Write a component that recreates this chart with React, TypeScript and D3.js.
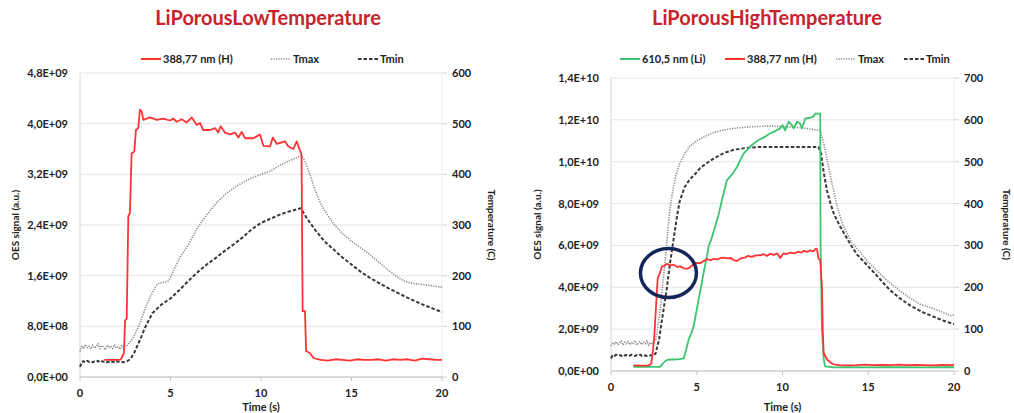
import React from 'react';
import * as d3 from 'd3';

type Pt = [number, number];

// signal values are in units of 1e9 a.u., temperatures in C, time in s
const timeTicks = [0, 5, 10, 15, 20];
const lowSignalTicks = [0, 0.8, 1.6, 2.4, 3.2, 4.0, 4.8];
const lowTempTicks = [0, 100, 200, 300, 400, 500, 600];
const highSignalTicks = [0, 2, 4, 6, 8, 10, 12, 14];
const highTempTicks = [0, 100, 200, 300, 400, 500, 600, 700];

const lowH: Pt[] = [
  [1.34, 0.27], [1.8, 0.27], [2.2, 0.27], [2.3, 0.3], [2.43, 0.38], [2.49, 0.89], [2.58, 0.92],
  [2.67, 2.54], [2.76, 2.59], [2.85, 3.53], [3.0, 3.56], [3.09, 3.9], [3.22, 3.93], [3.31, 4.22],
  [3.41, 4.19], [3.5, 4.06], [3.87, 4.1], [4.24, 4.06], [4.6, 4.08], [4.97, 4.05], [5.16, 4.08],
  [5.34, 4.03], [5.62, 4.07], [5.89, 4.02], [6.17, 4.1], [6.45, 3.98], [6.63, 4.01], [6.81, 3.9],
  [7.18, 3.9], [7.46, 3.93], [7.64, 3.86], [7.77, 3.96], [8.01, 3.86], [8.29, 3.83], [8.56, 3.86],
  [8.75, 3.78], [8.93, 3.87], [9.12, 3.77], [9.58, 3.77], [9.94, 3.83], [10.13, 3.65], [10.5, 3.64],
  [10.65, 3.78], [10.87, 3.68], [11.33, 3.72], [11.51, 3.64], [11.79, 3.6], [11.97, 3.72],
  [12.15, 3.58], [12.24, 3.51], [12.3, 1.04], [12.43, 1.04], [12.49, 0.41], [12.7, 0.38],
  [12.9, 0.3], [13.3, 0.27], [13.7, 0.26], [14.1, 0.28], [14.5, 0.27], [14.9, 0.26], [15.3, 0.28],
  [15.7, 0.27], [16.1, 0.27], [16.5, 0.28], [16.9, 0.26], [17.3, 0.28], [17.7, 0.27], [18.1, 0.28],
  [18.5, 0.26], [18.9, 0.29], [19.3, 0.28], [19.7, 0.27], [20.0, 0.27],
];

const lowTmax: Pt[] = [
  [0, 50], [0.1, 62], [0.2, 56], [0.3, 64], [0.4, 58], [0.5, 61], [0.6, 55], [0.7, 63], [0.8, 57],
  [0.9, 60], [1.0, 66], [1.1, 56], [1.2, 62], [1.3, 59], [1.4, 54], [1.5, 63], [1.6, 58], [1.7, 61],
  [1.8, 56], [1.9, 64], [2.0, 57], [2.1, 60], [2.2, 55], [2.3, 62], [2.4, 58], [2.5, 61], [2.6, 62],
  [2.8, 70], [3.0, 82], [3.3, 105], [3.6, 135], [3.9, 160], [4.2, 180], [4.4, 186], [4.7, 187],
  [4.9, 190], [5.1, 205], [5.5, 235], [6.0, 262], [6.5, 295], [7.0, 320], [7.5, 342], [8.0, 360],
  [8.5, 373], [9.0, 384], [9.5, 393], [10.0, 400], [10.5, 406], [11.0, 417], [11.5, 426],
  [12.0, 433], [12.2, 437], [12.4, 428], [12.7, 400], [13.0, 368], [13.3, 342], [13.7, 318],
  [14.0, 303], [14.5, 283], [15.0, 268], [15.5, 255], [16.0, 242], [16.5, 227], [17.0, 212],
  [17.5, 198], [18.0, 188], [18.5, 184], [19.0, 182], [19.5, 180], [20.0, 177],
];

const lowTmin: Pt[] = [
  [0, 20], [0.1, 30], [0.2, 31], [0.3, 29], [0.4, 32], [0.5, 30], [0.6, 31], [0.7, 29], [0.8, 31],
  [0.9, 30], [1.0, 32], [1.1, 29], [1.2, 31], [1.3, 30], [1.4, 31], [1.5, 29], [1.6, 30], [1.7, 32],
  [1.8, 30], [1.9, 29], [2.0, 31], [2.1, 30], [2.2, 31], [2.3, 30], [2.4, 29], [2.6, 31],
  [2.8, 36], [3.0, 48], [3.3, 72], [3.6, 98], [4.0, 126], [4.5, 143], [5.0, 155], [5.5, 172],
  [6.0, 190], [6.5, 207], [7.0, 222], [7.5, 235], [8.0, 249], [8.5, 262], [9.0, 276], [9.5, 292],
  [10.0, 304], [10.5, 312], [11.0, 320], [11.5, 326], [12.0, 331], [12.2, 333], [12.5, 315],
  [13.0, 290], [13.5, 268], [14.0, 252], [14.5, 236], [15.0, 222], [15.5, 208], [16.0, 196],
  [16.5, 186], [17.0, 176], [17.5, 167], [18.0, 158], [18.5, 150], [19.0, 142], [19.5, 135],
  [20.0, 128],
];

const highLi: Pt[] = [
  [1.3, 0.2], [2.0, 0.2], [2.88, 0.2], [3.0, 0.35], [3.27, 0.53], [3.6, 0.55], [3.9, 0.56],
  [4.24, 0.6], [4.38, 1.0], [4.53, 1.51], [4.68, 1.8], [4.82, 2.15], [4.97, 2.8], [5.11, 3.42],
  [5.25, 4.0], [5.4, 4.7], [5.55, 5.3], [5.7, 5.97], [5.85, 6.3], [5.99, 6.69], [6.14, 7.1],
  [6.28, 7.49], [6.47, 8.17], [6.6, 8.6], [6.76, 9.12], [6.96, 9.3], [7.15, 9.5], [7.35, 9.76],
  [7.55, 10.1], [7.74, 10.4], [7.98, 10.6], [8.22, 10.8], [8.45, 10.95], [8.7, 11.07], [9.0, 11.2],
  [9.29, 11.36], [9.55, 11.45], [9.87, 11.6], [10.0, 11.75], [10.15, 11.5], [10.36, 11.91],
  [10.5, 11.8], [10.65, 11.6], [10.85, 11.91], [11.0, 11.85], [11.14, 11.6], [11.33, 12.07],
  [11.62, 12.1], [11.8, 12.15], [11.91, 12.3], [12.2, 12.3], [12.22, 6.0], [12.3, 2.0],
  [12.4, 0.6], [12.48, 0.22], [13.0, 0.17], [14.0, 0.18], [15.0, 0.17], [16.0, 0.18],
  [17.0, 0.18], [18.0, 0.17], [19.0, 0.18], [20.0, 0.18],
];

const highH: Pt[] = [
  [1.3, 0.27], [1.8, 0.26], [2.2, 0.27], [2.35, 0.35], [2.45, 1.0], [2.52, 1.6], [2.62, 3.0],
  [2.72, 4.4], [2.82, 4.63], [2.9, 4.8], [2.97, 5.0], [3.1, 5.02], [3.27, 5.12], [3.45, 5.05],
  [3.65, 5.08], [3.85, 4.98], [4.05, 5.0], [4.25, 4.9], [4.43, 4.89], [4.6, 4.94], [4.8, 5.1],
  [5.01, 5.17], [5.2, 5.15], [5.4, 5.25], [5.6, 5.34], [5.8, 5.3], [6.0, 5.36], [6.2, 5.33],
  [6.4, 5.4], [6.57, 5.42], [6.8, 5.38], [7.0, 5.4], [7.15, 5.3], [7.35, 5.26], [7.55, 5.38],
  [7.8, 5.42], [8.0, 5.5], [8.2, 5.45], [8.45, 5.52], [8.7, 5.53], [8.9, 5.58], [9.1, 5.5],
  [9.3, 5.6], [9.5, 5.55], [9.7, 5.62], [9.87, 5.4], [10.05, 5.62], [10.25, 5.6], [10.46, 5.66],
  [10.7, 5.62], [10.9, 5.7], [11.1, 5.66], [11.25, 5.74], [11.43, 5.69], [11.6, 5.76],
  [11.8, 5.72], [11.95, 5.85], [12.01, 5.82], [12.1, 5.37], [12.2, 5.3], [12.3, 4.0],
  [12.35, 1.9], [12.4, 0.87], [12.6, 0.55], [12.8, 0.4], [12.98, 0.32], [13.3, 0.28],
  [13.8, 0.27], [14.3, 0.28], [14.8, 0.3], [15.3, 0.28], [15.8, 0.29], [16.3, 0.28],
  [16.8, 0.3], [17.3, 0.28], [17.8, 0.29], [18.3, 0.28], [18.8, 0.27], [19.3, 0.29],
  [19.7, 0.28], [20.0, 0.29],
];

const highTmax: Pt[] = [
  [0, 60], [0.1, 68], [0.2, 64], [0.3, 70], [0.4, 63], [0.5, 67], [0.6, 72], [0.7, 62], [0.8, 69],
  [0.9, 65], [1.0, 71], [1.1, 63], [1.2, 68], [1.3, 64], [1.4, 73], [1.5, 62], [1.6, 67], [1.7, 70],
  [1.8, 63], [1.9, 69], [2.0, 65], [2.1, 72], [2.2, 61], [2.3, 68], [2.4, 64], [2.5, 70],
  [2.6, 72], [2.7, 95], [2.85, 140], [3.0, 200], [3.15, 260], [3.3, 330], [3.45, 390],
  [3.6, 430], [3.8, 470], [4.0, 495], [4.3, 520], [4.6, 537], [5.0, 550], [5.5, 561], [6.0, 570],
  [6.5, 575], [7.0, 579], [7.5, 581], [8.0, 583], [8.5, 584], [9.0, 585], [9.5, 585],
  [10.0, 584], [10.5, 583], [11.0, 581], [11.5, 579], [12.0, 576], [12.2, 574], [12.4, 545],
  [12.6, 505], [12.9, 445], [13.2, 392], [13.5, 350], [14.0, 310], [14.5, 285], [15.0, 260],
  [15.5, 240], [16.0, 220], [16.5, 203], [17.0, 187], [17.5, 173], [18.0, 160], [18.5, 153],
  [19.0, 146], [19.5, 138], [19.8, 132], [20.0, 134],
];

const highTmin: Pt[] = [
  [0, 30], [0.1, 38], [0.2, 36], [0.3, 39], [0.4, 37], [0.5, 38], [0.6, 36], [0.7, 39], [0.8, 37],
  [0.9, 38], [1.0, 36], [1.1, 37], [1.2, 39], [1.3, 37], [1.4, 36], [1.5, 38], [1.6, 37], [1.7, 39],
  [1.8, 36], [1.9, 38], [2.0, 37], [2.1, 36], [2.2, 38], [2.3, 37], [2.4, 38], [2.5, 37],
  [2.6, 42], [2.8, 75], [3.0, 130], [3.25, 196], [3.45, 260], [3.65, 315], [3.85, 370],
  [4.0, 405], [4.3, 440], [4.6, 458], [4.85, 468], [5.2, 485], [5.6, 497], [6.0, 508],
  [6.6, 521], [7.2, 529], [7.9, 533], [8.5, 535], [9.5, 535], [10.5, 535], [11.5, 535],
  [12.1, 535], [12.25, 520], [12.4, 475], [12.6, 430], [12.8, 400], [13.0, 375], [13.35, 346],
  [14.0, 300], [14.35, 278], [15.0, 250], [15.5, 228], [16.0, 205], [16.3, 192], [16.8, 175],
  [17.5, 155], [18.2, 140], [18.8, 130], [19.4, 120], [20.0, 112],
];

// highlighted region on the high temperature plot (time, signal)
const circleCenter: Pt = [3.35, 4.68];

const FONT = 'Lato, "Open Sans", sans-serif';
const RED = '#ff3333';
const GREEN = '#3cc46e';

// 4.8E+09 style labels with comma decimals
function sci(v: number) {
  const [m, e] = v.toExponential(1).split('e');
  const n = parseInt(e, 10);
  return m.replace('.', ',') + 'E' + (n < 0 ? '-' : '+') + String(Math.abs(n)).padStart(2, '0');
}

type Series = { data: Pt[]; axis: 'sig' | 'temp'; color: string; width: number; dash?: string };
type LegendItem = { label: string; x: number; color: string; width: number; dash?: string };

type PanelProps = {
  title: string;
  titleX: number;
  left: number;
  right: number;
  top: number;
  bottom: number;
  sigTicks: number[];
  tempTicks: number[];
  series: Series[];
  legend: LegendItem[];
  rightTitleX: number;
  leftTitleX: number;
  circle?: Pt;
};

function Panel(p: PanelProps) {
  const x = d3.scaleLinear().domain([0, 20]).range([p.left, p.right]);
  const ySig = d3.scaleLinear().domain([0, d3.max(p.sigTicks)!]).range([p.bottom, p.top]);
  const yTemp = d3.scaleLinear().domain([0, d3.max(p.tempTicks)!]).range([p.bottom, p.top]);
  const midY = (p.top + p.bottom) / 2;

  const makeLine = (s: Series) =>
    d3.line<Pt>()
      .x(d => x(d[0]))
      .y(d => (s.axis === 'sig' ? ySig(d[1]) : yTemp(d[1])))(s.data) || '';

  return (
    <g fontFamily={FONT} fontWeight="bold">
      <text x={p.titleX} y={25} textAnchor="middle" fontSize={20} fill="#c8232c">{p.title}</text>

      {p.legend.map(l => (
        <g key={l.label}>
          <line x1={l.x} x2={l.x + 20} y1={59} y2={59} stroke={l.color} strokeWidth={l.width} strokeDasharray={l.dash} />
          <text x={l.x + 22} y={63} fontSize={11} fill="#222">{l.label}</text>
        </g>
      ))}

      {p.sigTicks.map(t => (
        <g key={'s' + t}>
          <line x1={p.left} x2={p.right} y1={ySig(t)} y2={ySig(t)} stroke="#e4e4e4" strokeWidth={1} />
          <text x={p.left - 12} y={ySig(t) + 4} textAnchor="end" fontSize={11} fill="#222">{sci(t * 1e9)}</text>
        </g>
      ))}
      {p.tempTicks.map(t => (
        <g key={'t' + t}>
          <line x1={p.right} x2={p.right + 5} y1={yTemp(t)} y2={yTemp(t)} stroke="#d0d0d0" />
          <text x={p.right + 10} y={yTemp(t) + 4} textAnchor="start" fontSize={11} fill="#222">{t}</text>
        </g>
      ))}

      <line x1={p.left} x2={p.left} y1={p.top} y2={p.bottom} stroke="#d6d6d6" />
      <line x1={p.right} x2={p.right} y1={p.top} y2={p.bottom} stroke="#ececec" />
      <line x1={p.left} x2={p.right} y1={p.bottom} y2={p.bottom} stroke="#c4c4c4" />
      {timeTicks.map(t => (
        <g key={'x' + t}>
          <line x1={x(t)} x2={x(t)} y1={p.bottom} y2={p.bottom + 4} stroke="#c4c4c4" />
          <text x={x(t)} y={p.bottom + 20} textAnchor="middle" fontSize={11} fill="#222">{t}</text>
        </g>
      ))}

      <text x={(p.left + p.right) / 2} y={411} textAnchor="middle" fontSize={11} fill="#222">Time (s)</text>
      <text transform={`translate(${p.leftTitleX},${midY}) rotate(-90)`} textAnchor="middle" fontSize={10} fill="#222">OES signal (a.u.)</text>
      <text transform={`translate(${p.rightTitleX},${midY}) rotate(90)`} textAnchor="middle" fontSize={10} fill="#222">Temperature (C)</text>

      {p.series.map((s, i) => (
        <path key={i} d={makeLine(s)} fill="none" stroke={s.color} strokeWidth={s.width} strokeDasharray={s.dash} strokeLinejoin="round" />
      ))}

      {p.circle && (
        <ellipse cx={x(p.circle[0])} cy={ySig(p.circle[1])} rx={28} ry={24.5} fill="none" stroke="#13265a" strokeWidth={3.5} />
      )}
    </g>
  );
}

export default function App() {
  const tmaxStyle = { color: '#8a8a8a', width: 1.6, dash: '1.2,1.3' };
  const tminStyle = { color: '#3a3a3a', width: 2, dash: '3.5,2' };
  return (
    <svg width={1014} height={413} style={{ position: 'absolute', left: 0, top: 0, background: '#fff' }}>
      <Panel
        title="LiPorousLowTemperature"
        titleX={268}
        left={80}
        right={442}
        top={73}
        bottom={377}
        sigTicks={lowSignalTicks}
        tempTicks={lowTempTicks}
        leftTitleX={19}
        rightTitleX={488}
        series={[
          { data: lowTmax, axis: 'temp', ...tmaxStyle },
          { data: lowTmin, axis: 'temp', ...tminStyle },
          { data: lowH, axis: 'sig', color: RED, width: 1.8 },
        ]}
        legend={[
          { label: '388,77 nm (H)', x: 141, color: RED, width: 2 },
          { label: 'Tmax', x: 271, ...tmaxStyle },
          { label: 'Tmin', x: 358, ...tminStyle },
        ]}
      />
      <Panel
        title="LiPorousHighTemperature"
        titleX={767}
        left={611}
        right={954}
        top={78}
        bottom={371}
        sigTicks={highSignalTicks}
        tempTicks={highTempTicks}
        leftTitleX={541}
        rightTitleX={1003}
        series={[
          { data: highTmax, axis: 'temp', ...tmaxStyle },
          { data: highTmin, axis: 'temp', ...tminStyle },
          { data: highLi, axis: 'sig', color: GREEN, width: 1.8 },
          { data: highH, axis: 'sig', color: RED, width: 1.8 },
        ]}
        legend={[
          { label: '610,5 nm (Li)', x: 620, color: GREEN, width: 2 },
          { label: '388,77 nm (H)', x: 725, color: RED, width: 2 },
          { label: 'Tmax', x: 836, ...tmaxStyle },
          { label: 'Tmin', x: 904, ...tminStyle },
        ]}
        circle={circleCenter}
      />
    </svg>
  );
}
